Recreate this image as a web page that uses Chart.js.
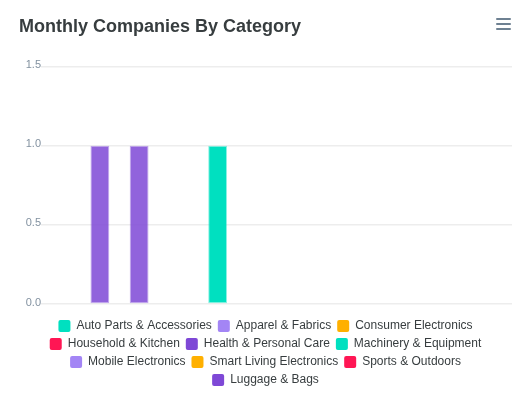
<!DOCTYPE html>
<html>
<head>
<meta charset="utf-8">
<title>Monthly Companies By Category</title>
<script src="https://cdn.jsdelivr.net/npm/chart.js@4"></script>
<style>
  html, body { margin: 0; padding: 0; background: #fff; }
  #wrap { position: relative; width: 531px; height: 412px; }
  .menu-line { position: absolute; left: 496px; width: 15px; height: 2px; background: #6E8192; border-radius: 1px; }
</style>
</head>
<body>
<div id="wrap">
  <canvas id="categoryChart"></canvas>
  <div class="menu-line" style="top:18px"></div>
  <div class="menu-line" style="top:23px"></div>
  <div class="menu-line" style="top:27.5px"></div>
</div>
<script>
// months on the x axis (labels are not shown in the chart)
const months = ['Jan', 'Feb', 'Mar', 'Apr', 'May', 'Jun', 'Jul', 'Aug', 'Sep', 'Oct', 'Nov', 'Dec'];

const seriesNames = [
  'Auto Parts & Accessories', 'Apparel & Fabrics', 'Consumer Electronics',
  'Household & Kitchen', 'Health & Personal Care', 'Machinery & Equipment',
  'Mobile Electronics', 'Smart Living Electronics', 'Sports & Outdoors',
  'Luggage & Bags'
];
const seriesColors = [
  '#00E0C0', '#A385F5', '#FFB000', '#FF1654', '#7E48D6',
  '#00E0C0', '#A385F5', '#FFB000', '#FF1654', '#7E48D6'
];

// companies per month for each category
const autoParts    = [0, 0, 0, 0, 0, 0, 0, 0, 0, 0, 0, 0];
const apparel      = [0, 0, 0, 0, 0, 0, 0, 0, 0, 0, 0, 0];
const consumerElec = [0, 0, 0, 0, 0, 0, 0, 0, 0, 0, 0, 0];
const household    = [0, 0, 0, 0, 0, 0, 0, 0, 0, 0, 0, 0];
const health       = [0, 1, 0, 0, 0, 0, 0, 0, 0, 0, 0, 0];
const machinery    = [0, 0, 0, 0, 1, 0, 0, 0, 0, 0, 0, 0];
const mobileElec   = [0, 0, 0, 0, 0, 0, 0, 0, 0, 0, 0, 0];
const smartLiving  = [0, 0, 0, 0, 0, 0, 0, 0, 0, 0, 0, 0];
const sports       = [0, 0, 0, 0, 0, 0, 0, 0, 0, 0, 0, 0];
const luggage      = [0, 0, 1, 0, 0, 0, 0, 0, 0, 0, 0, 0];

const seriesValues = [autoParts, apparel, consumerElec, household, health,
  machinery, mobileElec, smartLiving, sports, luggage];

const yTicks = [0, 0.5, 1.0, 1.5];

function withAlpha(hex, a) {
  const n = parseInt(hex.slice(1), 16);
  return `rgba(${(n >> 16) & 255}, ${(n >> 8) & 255}, ${n & 255}, ${a})`;
}

const FONT = "'Liberation Sans', Helvetica, Arial, sans-serif";

new Chart(document.getElementById('categoryChart'), {
  type: 'bar',
  data: {
    labels: months,
    datasets: seriesNames.map((name, i) => ({
      label: name,
      data: seriesValues[i],
      // teal bars look fully opaque in the original, purple ones slightly faded
      backgroundColor: withAlpha(seriesColors[i], seriesColors[i] === '#00E0C0' ? 1 : 0.85),
      borderColor: withAlpha(seriesColors[i], 0.45),
      borderWidth: 1,
      borderSkipped: false,
      barPercentage: 0.48,
      categoryPercentage: 1
    }))
  },
  options: {
    responsive: true,
    maintainAspectRatio: false,
    animation: false,
    layout: { padding: { left: 19, right: 19, top: 0, bottom: 16 } },
    plugins: {
      title: {
        display: true,
        text: 'Monthly Companies By Category',
        align: 'start',
        color: '#373D3F',
        font: { family: FONT, size: 18, weight: 'bold' },
        padding: { top: 16, bottom: 29 }
      },
      legend: {
        position: 'bottom',
        labels: {
          color: '#373D3F',
          font: { family: FONT, size: 12 },
          boxWidth: 12,
          boxHeight: 12,
          padding: 6,
          useBorderRadius: true,
          borderRadius: 2,
          generateLabels: chart =>
            Chart.defaults.plugins.legend.labels.generateLabels(chart).map((l, i) => ({
              ...l, fillStyle: seriesColors[i], strokeStyle: seriesColors[i], lineWidth: 0
            }))
        }
      },
      tooltip: { enabled: false }
    },
    scales: {
      x: {
        stacked: true,
        ticks: { display: false },
        grid: { display: false },
        border: { display: false },
        afterFit: s => { s.height = 10; }
      },
      y: {
        stacked: true,
        min: 0,
        max: 1.5,
        afterBuildTicks: s => { s.ticks = yTicks.map(v => ({ value: v })); },
        ticks: {
          color: '#8291A0',
          font: { family: FONT, size: 11 },
          padding: 0,
          labelOffset: -1.5,
          callback: v => Number(v).toFixed(1)
        },
        grid: { color: '#EDEDED', lineWidth: 1.5, drawTicks: false },
        border: { display: false },
        afterFit: s => { s.width = 22; }
      }
    }
  }
});
</script>
</body>
</html>
